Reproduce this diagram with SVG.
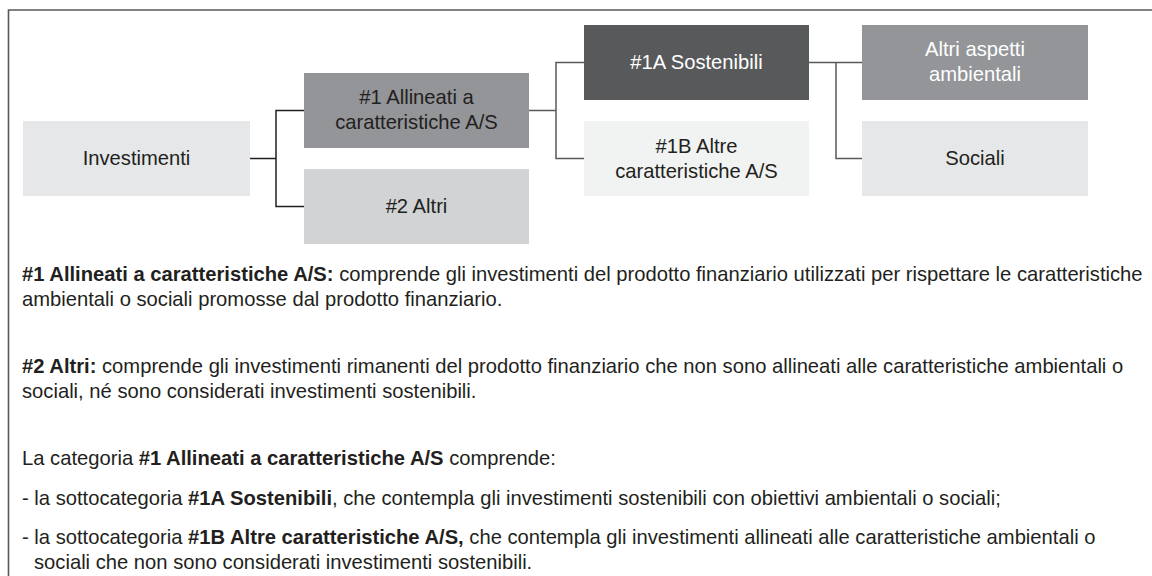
<svg xmlns="http://www.w3.org/2000/svg" width="1152" height="576" viewBox="0 0 1152 576">
<style>
.t{font-family:"Liberation Sans",Arial,sans-serif;font-size:20.2px;fill:#231f20}
.c{text-anchor:middle}
.w{fill:#ffffff}
.b{font-weight:bold}
.ln{fill:none;stroke-width:1.5}
</style>
<rect width="1152" height="576" fill="#ffffff"/>
<path d="M8.5,576 V10 H1152" fill="none" stroke="#58595b" stroke-width="1.6"/>
<g id="connectors">
<path class="ln" stroke="#231f20" d="M250,158.5 H276 M304,110.5 H276 V206.5 H304"/>
<path class="ln" stroke="#58595b" d="M529,110.5 H556 M584,62.5 H556 V158.5 H584"/>
<path class="ln" stroke="#58595b" d="M809,62.5 H862 M836,62.5 V158.5 H862"/>
</g>
<g id="investimenti"><rect x="23" y="121" width="227" height="75" fill="#e6e7e8"/><text class="t c" x="136.5" y="165">Investimenti</text></g>
<g id="n1"><rect x="304" y="73" width="225" height="75" fill="#939598"/><text class="t c" x="416.5" y="104">#1 Allineati a</text><text class="t c" x="416.5" y="129">caratteristiche A/S</text></g>
<g id="n2"><rect x="304" y="169" width="225" height="75" fill="#d1d3d4"/><text class="t c" x="416.5" y="213">#2 Altri</text></g>
<g id="n1a"><rect x="584" y="25" width="225" height="75" fill="#58595b"/><text class="t c w" x="696.5" y="69">#1A Sostenibili</text></g>
<g id="n1b"><rect x="584" y="121" width="225" height="75" fill="#f1f2f2"/><text class="t c" x="696.5" y="153">#1B Altre</text><text class="t c" x="696.5" y="178">caratteristiche A/S</text></g>
<g id="altri-aspetti"><rect x="862" y="25" width="226" height="75" fill="#939598"/><text class="t c w" x="975" y="56">Altri aspetti</text><text class="t c w" x="975" y="81">ambientali</text></g>
<g id="sociali"><rect x="862" y="121" width="226" height="75" fill="#e6e7e8"/><text class="t c" x="975" y="165">Sociali</text></g>
<g id="legend">
<text class="t" x="22" y="281"><tspan class="b">#1 Allineati a caratteristiche A/S:</tspan> comprende gli investimenti del prodotto finanziario utilizzati per rispettare le caratteristiche</text>
<text class="t" x="22" y="306">ambientali o sociali promosse dal prodotto finanziario.</text>
<text class="t" x="22" y="373"><tspan class="b">#2 Altri:</tspan> comprende gli investimenti rimanenti del prodotto finanziario che non sono allineati alle caratteristiche ambientali o</text>
<text class="t" x="22" y="398">sociali, né sono considerati investimenti sostenibili.</text>
<text class="t" x="22" y="465">La categoria <tspan class="b">#1 Allineati a caratteristiche A/S</tspan> comprende:</text>
<text class="t" x="22" y="505">- la sottocategoria <tspan class="b">#1A Sostenibili</tspan>, che contempla gli investimenti sostenibili con obiettivi ambientali o sociali;</text>
<text class="t" x="22" y="544">- la sottocategoria <tspan class="b">#1B Altre caratteristiche A/S,</tspan> che contempla gli investimenti allineati alle caratteristiche ambientali o</text>
<text class="t" x="34" y="569">sociali che non sono considerati investimenti sostenibili.</text>
</g>
</svg>
